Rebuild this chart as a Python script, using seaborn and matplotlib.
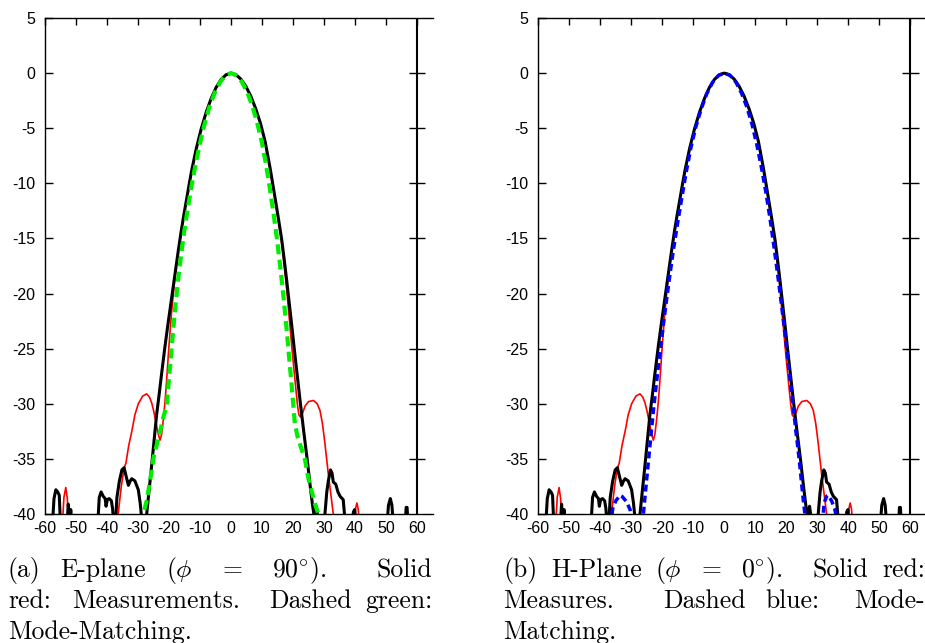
import numpy as np
import pandas as pd
import matplotlib
matplotlib.use("Agg")
import matplotlib.pyplot as plt
import seaborn as sns

# ---------------- data ----------------
angle_ticks = [-60, -50, -40, -30, -20, -10, 0, 10, 20, 30, 40, 50, 60]
db_ticks = [5, 0, -5, -10, -15, -20, -25, -30, -35, -40]

# black solid curve (same in both panels)
black_x = [-60, -57.6, -57.1, -56.5, -55.9, -55.4, -55.0, -53.5, -52.8, -52.5, -52.1, -51.9,
           -51.7, -51.3, -47, -43.0, -42.5, -41.9, -41.2, -40.6, -40.3, -39.9, -39.3, -38.6,
           -38.2, -37.8, -37.3, -36.8, -36.0, -35.2, -34.5, -33.8, -33.1, -32.5, -32.0, -31.0,
           -29.9, -29.3, -28.6, -27.9,
           -27.2, -26.4, -25.6, -24.8, -24.0, -23.2, -22.4, -21.3, -20.2, -19.1, -18.1, -17.1,
           -16.1, -15.2, -14.3, -13.5, -12.7, -11.2, -9.6, -8.0, -6.4, -4.8, -3.2, -1.6, 0,
           1.6, 3.2, 4.8, 6.4, 8.0, 9.5, 11.0, 12.6, 14.2, 15.3, 16.4, 17.2, 18.0, 18.8, 19.6,
           20.4, 21.2, 22.4, 23.5, 24.6, 25.6, 26.3,
           26.9, 27.5, 28.1, 28.8, 29.5, 30.3, 30.9,
           31.4, 32.1, 32.6, 33.0, 33.8, 34.5, 35.2, 36.2, 36.6, 37.3, 39.0, 39.5, 39.9, 40.3,
           45, 50.3, 50.8, 51.4, 51.9, 52.4, 54, 56.2, 56.5, 56.8, 57.1, 60]
black_y = [-45, -41, -38.6, -37.8, -38.0, -38.3, -41, -43, -40.5, -39.1, -40.5, -40.5,
           -39.6, -41, -45, -41, -38.5, -38.0, -38.4, -38.6, -39.3, -38.7, -38.6, -38.8,
           -39.5, -41, -41, -38.5, -37.0, -36.0, -35.8, -36.6, -37.4, -37.0, -36.8, -37.0,
           -37.8, -39, -41, -41.5,
           -40.0, -37.8, -35.6, -33.3, -31.0, -29.2, -27.3, -24.8, -22.5, -20.3, -18.3, -16.3,
           -14.4, -12.85, -11.4, -10.1, -8.85, -6.85, -5.05, -3.55, -2.3, -1.3, -0.58, -0.15, 0,
           -0.14, -0.55, -1.2, -2.1, -3.25, -4.55, -6.2, -8.6, -11.3, -13.2, -15.2, -17.0, -18.9, -20.9, -22.9,
           -25.0, -27.0, -30.0, -32.6, -35.1, -37.6, -39.2,
           -40.3, -39.3, -40.5, -42, -41.5, -40, -38,
           -37.0, -36.0, -36.3, -37.1, -37.3, -38.0, -38.4, -38.7, -40, -42, -41, -39.8, -39.6, -41,
           -45, -41, -39.2, -38.6, -39.2, -41, -43, -41, -39.4, -39.4, -41, -45]

# red solid curve: measurements (same in both panels)
red_x = [-60, -54.4, -53.9, -53.3, -52.8, -52.4, -45, -36.9, -36.4, -35.4, -34.8, -34.2,
         -33.9, -33.0, -32.0, -31.0, -29.9, -28.5, -27.2, -26.3, -25.6, -24.9, -24.2, -23.5,
         -22.9, -22.4, -21.9, -21.4, -21.0, -20.6, -20.2, -19.7, -19.2, -18.6, -18.0, -17.1,
         -16.1, -15.2, -14.3, -13.5, -12.7, -11.2, -9.6, -8.0, -6.4, -4.8, -3.2, -1.6, 0,
         1.6, 3.2, 4.8, 6.4, 8.0, 9.5, 11.0, 12.6, 14.2, 16.2, 17.7, 19.0,
         20.0, 20.8, 21.4, 21.9, 22.4, 22.9, 23.9, 25.0, 26.6, 27.8, 28.7, 29.5, 30.3, 31.4, 32.2,
         33.0, 33.5, 37, 39.8, 40.2, 40.6, 41.0, 41.5, 45, 60]
red_y = [-46, -41, -38.5, -37.6, -38.6, -41, -46, -41, -40, -37.5, -36.4, -35.6,
         -35.4, -33.8, -32.5, -31.0, -30.0, -29.3, -29.1, -29.4, -29.9, -30.7, -31.7, -32.7,
         -33.3, -32.8, -31.6, -30.2, -28.8, -27.2, -25.5, -23.6, -21.8, -20.0, -18.3, -16.3,
         -14.4, -12.85, -11.4, -10.1, -8.85, -6.85, -5.05, -3.55, -2.3, -1.3, -0.58, -0.15, 0,
         -0.14, -0.55, -1.2, -2.1, -3.25, -4.55, -6.2, -8.6, -11.3, -15.0, -18.8, -22.9,
         -26.0, -28.3, -30.0, -31.0, -31.2, -31.0, -30.2, -29.8, -29.7, -30.0, -30.6, -31.8, -33.6, -36.4, -38.2,
         -40, -41, -46, -41, -39.5, -39.0, -39.5, -41, -46, -46]

# dashed green: Mode-Matching, E-plane
green_x = [-28.9, -28.3, -27.2, -26.1, -25.0, -23.4, -22.6, -21.8, -20.7, -20.1, -19.4,
           -18.7, -17.9, -17.0, -16.0, -15.0, -13.9, -12.7, -11.5, -10.2, -8.7, -7.0, -5.2,
           -3.4, -1.7, 0, 1.7, 3.4, 5.1, 6.8, 8.4, 9.9, 11.3, 12.6, 13.8, 14.9, 15.9, 16.9,
           17.8, 18.6, 19.4, 20.1, 20.6, 21.4, 22.3, 23.1, 23.9, 24.9, 26.0, 27.1, 28.2, 28.8]
green_y = [-41, -40, -38.8, -37.0, -34.9, -33.1, -32.2, -31.2, -30.1, -28.0, -25.8,
           -23.5, -21.0, -18.6, -16.3, -14.2, -12.2, -10.2, -8.4, -6.6, -4.8, -3.1, -1.75,
           -0.78, -0.2, 0, -0.2, -0.75, -1.65, -2.9, -4.45, -6.2, -8.3, -10.6, -12.9, -15.2, -17.6, -20.2,
           -22.8, -25.3, -27.8, -30.1, -31.8, -32.9, -33.7, -34.4, -35.1, -36.7, -37.9, -39.1, -40.0, -41]

# dashed blue: Mode-Matching, H-plane
blue_x = [-36.6, -36.0, -35.0, -33.6, -33.0, -31.5, -30.4, -29.7, -29.0, -26.6,
          -26.1, -25.3, -24.4, -23.5, -22.6, -21.6, -20.6, -19.6, -18.6, -17.5, -16.4, -15.0,
          -13.7, -12.3, -10.8, -9.2, -7.5, -5.7, -3.8, -1.9, 0, 1.9, 3.8, 5.6, 7.3, 8.9, 10.5,
          12.0, 13.4, 14.7, 15.9, 16.9, 18.0, 19.0, 19.8, 20.6, 21.5, 22.3, 23.1, 23.9, 24.5,
          25.0, 25.5, 26.0, 26.5, 29.0, 31.6, 32.2, 33.0, 33.5, 34.6, 35.6, 36.3]
blue_y = [-41, -39.5, -38.8, -38.3, -38.4, -38.9, -39.6, -41, -43, -41,
          -40, -37.6, -35.0, -32.4, -29.9, -27.4, -25.0, -22.7, -20.5, -18.2, -16.0, -13.5,
          -11.3, -9.0, -6.8, -4.9, -3.3, -1.9, -0.85, -0.22, 0, -0.22, -0.85, -1.85, -3.1, -4.6, -6.5,
          -8.6, -10.8, -13.1, -15.5, -17.6, -20.0, -22.3, -24.2, -26.2, -28.4, -30.4, -32.5, -34.4, -36.0,
          -37.4, -38.8, -40.0, -41, -43, -41, -39.0, -38.4, -38.3, -38.8, -39.5, -40.5]

caption_a = [["(a)", "E-plane", r"($\phi$", "=", r"90$^{\circ}$).", "Solid"],
             ["red:", "Measurements.", "Dashed", "green:"],
             ["Mode-Matching."]]
caption_b = [["(b)", "H-Plane", r"($\phi$", "=", r"0$^{\circ}$).", "Solid", "red:"],
             ["Measures.", "Dashed", "blue:", "Mode-"],
             ["Matching."]]
# relative stretch of the inter-word gaps (TeX-like: larger after '.' and ':')
stretch_a = [[1, 1, 1.67, 1.67, 3], [2, 3, 1], []]
stretch_b = [[1, 1, 1.67, 1.67, 3, 1], [3, 1, 2], []]

# ---------------- styling ----------------
sns.set_style("white")
plt.rcParams["font.family"] = ["Liberation Sans", "DejaVu Sans"]
plt.rcParams["axes.unicode_minus"] = False
plt.rcParams["mathtext.fontset"] = "cm"

W, H = 925, 643
fig = plt.figure(figsize=(W / 100, H / 100), dpi=100)

ax_left_px = [45, 538.3]
ax_w_px = 387.5
ax_top_px, ax_bot_px = 18, 514

black_df = pd.DataFrame({"x": black_x, "y": black_y})
red_df = pd.DataFrame({"x": red_x, "y": red_y})
green_df = pd.DataFrame({"x": green_x, "y": green_y})
blue_df = pd.DataFrame({"x": blue_x, "y": blue_y})

panels = [(green_df, "#00ee00", 3.0, (0, (2.4, 1.3))),
          (blue_df, "#0000ff", 2.5, (0, (2.0, 1.2)))]

for i, (mm_df, mm_col, mm_lw, mm_ls) in enumerate(panels):
    ax = fig.add_axes([ax_left_px[i] / W, (H - ax_bot_px) / H, ax_w_px / W,
                       (ax_bot_px - ax_top_px) / H])
    sns.lineplot(data=red_df, x="x", y="y", ax=ax, color="#ff0000", linewidth=1.2,
                 sort=False, estimator=None)
    sns.lineplot(data=black_df, x="x", y="y", ax=ax, color="black", linewidth=2.2,
                 sort=False, estimator=None)
    sns.lineplot(data=mm_df, x="x", y="y", ax=ax, color=mm_col, linewidth=mm_lw,
                 linestyle=mm_ls, sort=False, estimator=None)
    for ln in ax.get_lines():
        ln.set_solid_joinstyle("round")
    ax.set_xlim(-60, 65)
    ax.set_ylim(-40, 5)
    ax.set_xticks(angle_ticks)
    ax.set_yticks(db_ticks)
    ax.set_xlabel("")
    ax.set_ylabel("")
    for s in ["left", "top", "bottom"]:
        ax.spines[s].set_visible(True)
        ax.spines[s].set_color("black")
        ax.spines[s].set_linewidth(1.0)
    ax.spines["right"].set_visible(False)
    ax.tick_params(axis="x", which="both", bottom=True, top=True, direction="in",
                   length=0, labelsize=11.5, pad=5, labelcolor="black")
    ax.tick_params(axis="x", top=True, length=5, width=1, color="black")
    ax.tick_params(axis="x", bottom=False)
    ax.tick_params(axis="y", left=True, right=False, direction="in", length=6, width=1,
                   labelsize=11.5, pad=7, color="black", labelcolor="black")
    # vertical axis line at +60 with crossing ticks
    ax.axvline(60, color="black", linewidth=1.5, zorder=5)
    ax.hlines([t for t in db_ticks if -40 < t < 5], 60 - 2.7, 60 + 2.7,
              color="black", linewidth=1.0, zorder=5)
    ax.grid(False)

# ---------------- captions (justified) ----------------
renderer = fig.canvas.get_renderer()
cap_fs = 18.5
baselines = [577, 608, 639]
base_gap = 0.2 * cap_fs * 100 / 72


def put_line(words, weights, x0, x1, ypx):
    texts = [fig.text(0, 1 - ypx / H, w, fontsize=cap_fs, family="cmr10",
                      va="baseline", ha="left", color="black") for w in words]
    widths = [t.get_window_extent(renderer).width for t in texts]
    if weights:
        slack = (x1 - x0) - sum(widths) - base_gap * len(weights)
        k = slack / sum(weights)
        gaps = [base_gap + k * w for w in weights]
    else:
        gaps = []
    x = x0
    for j, (t, w) in enumerate(zip(texts, widths)):
        t.set_x(x / W)
        x += w + (gaps[j] if j < len(gaps) else 0)


for cap, stretch, x0, x1 in [(caption_a, stretch_a, 8, 432), (caption_b, stretch_b, 503, 925)]:
    for j, words in enumerate(cap):
        put_line(words, stretch[j], x0, x1, baselines[j])

fig.savefig("out.png", dpi=100)
